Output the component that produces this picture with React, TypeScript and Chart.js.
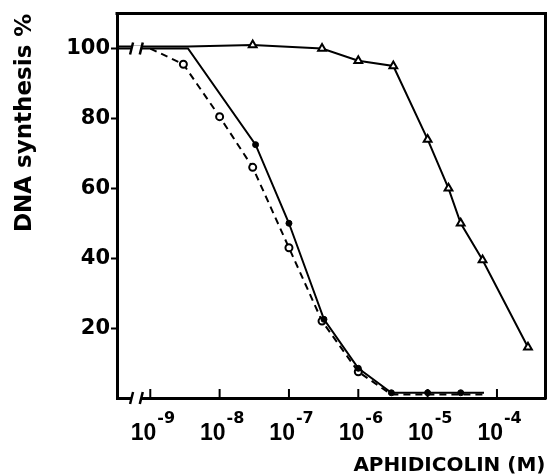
import React, { useEffect, useRef } from 'react';
import { Chart, registerables } from 'chart.js';
Chart.register(...registerables);

// Concentration of aphidicolin (M) and % DNA synthesis
const xSolid = [3.3e-10, 3.5e-9, 3.3e-8, 1e-7, 3.2e-7, 1e-6, 3e-6, 1e-5, 3e-5, 6.5e-5];
const ySolid = [100, 100, 72.5, 50, 22.5, 8.5, 1.5, 1.5, 1.5, 1.5];

const xDashed = [1e-9, 3e-9, 1e-8, 3e-8, 1e-7, 3e-7, 1e-6, 3e-6, 6.5e-5];
const yDashed = [100, 95.5, 80.5, 66, 43, 22, 7.5, 1, 1];

const xTri = [3.3e-10, 3.5e-9, 3e-8, 3e-7, 1e-6, 3.2e-6, 1e-5, 2e-5, 3e-5, 6.2e-5, 2.8e-4];
const yTri = [100.6, 100.6, 101, 100, 96.5, 95, 74, 60, 50, 39.5, 14.5];

const xTickValues = [1e-9, 1e-8, 1e-7, 1e-6, 1e-5, 1e-4];
const xTickExponents = ['-9', '-8', '-7', '-6', '-5', '-4'];
const yTickValues = [20, 40, 60, 80, 100];

const xMin = Math.pow(10, -9.48);
const xMax = Math.pow(10, -3.3);
const yMin = 0;
const yMax = 110;
const breakValues = [Math.pow(10, -9.27), Math.pow(10, -9.13)];

const xTitle = 'APHIDICOLIN (M)';
const yTitle = 'DNA synthesis %';

const FONT = '"DejaVu Sans", sans-serif';
const XFONT = '"Liberation Sans", Arial, sans-serif';

const toPoints = (xs: number[], ys: number[]) => xs.map((x, i) => ({ x, y: ys[i] }));

const hideIdx = (hidden: number[], r: number) => (ctx: any) =>
  hidden.includes(ctx.dataIndex) ? 0 : r;

const decorPlugin = {
  id: 'decor',
  afterDraw(chart: any) {
    const { ctx, chartArea } = chart;
    const xs = chart.scales.x;
    const ys = chart.scales.y;
    ctx.save();
    ctx.strokeStyle = '#000';
    ctx.lineCap = 'butt';
    // top & right frame
    ctx.lineWidth = 3;
    ctx.beginPath();
    ctx.moveTo(chartArea.left - 1.5, chartArea.top);
    ctx.lineTo(chartArea.right, chartArea.top);
    ctx.lineTo(chartArea.right, chartArea.bottom + 1.5);
    ctx.stroke();
    // inward x tick marks
    ctx.lineWidth = 2;
    xTickValues.forEach((v) => {
      const px = xs.getPixelForValue(v);
      ctx.beginPath();
      ctx.moveTo(px, chartArea.bottom);
      ctx.lineTo(px, chartArea.bottom - 9);
      ctx.stroke();
    });
    // axis breaks
    const b1 = xs.getPixelForValue(breakValues[0]);
    const b2 = xs.getPixelForValue(breakValues[1]);
    [ys.getPixelForValue(100), chartArea.bottom].forEach((py: number) => {
      ctx.fillStyle = '#fff';
      ctx.fillRect(b1, py - 3, b2 - b1, 6);
      ctx.lineWidth = 2.5;
      [b1, b2].forEach((bx) => {
        ctx.beginPath();
        ctx.moveTo(bx - 1.5, py + 6);
        ctx.lineTo(bx + 1.5, py - 6);
        ctx.stroke();
      });
    });
    // x tick labels 10^n
    ctx.fillStyle = '#000';
    ctx.textBaseline = 'alphabetic';
    xTickValues.forEach((v, i) => {
      const px = xs.getPixelForValue(v);
      ctx.font = `bold 23px ${XFONT}`;
      ctx.textAlign = 'right';
      ctx.fillText('10', px + 6, 440);
      ctx.font = `bold 16px ${FONT}`;
      ctx.textAlign = 'left';
      ctx.fillText(xTickExponents[i], px + 7, 423);
    });
    ctx.restore();
  },
};

export default function App() {
  const ref = useRef<HTMLCanvasElement | null>(null);
  useEffect(() => {
    if (!ref.current) return;
    const chart = new Chart(ref.current, {
      type: 'line',
      data: {
        datasets: [
          {
            data: toPoints(xSolid, ySolid),
            borderColor: '#000',
            backgroundColor: '#000',
            borderWidth: 2,
            pointRadius: hideIdx([0, 1, 9], 3),
            pointBorderWidth: 1,
            pointStyle: 'circle',
          },
          {
            data: toPoints(xDashed, yDashed),
            borderColor: '#000',
            backgroundColor: '#fff',
            borderWidth: 2,
            borderDash: [7, 5],
            pointRadius: hideIdx([0, 7, 8], 3.5),
            pointBorderWidth: 2,
            pointStyle: 'circle',
          },
          {
            data: toPoints(xTri, yTri),
            borderColor: '#000',
            backgroundColor: '#fff',
            borderWidth: 2,
            pointRadius: hideIdx([0, 1], 4.5),
            pointBorderWidth: 2,
            pointStyle: 'triangle',
          },
        ],
      },
      options: {
        animation: false,
        responsive: false,
        layout: { padding: { top: 12, right: 4, left: 0, bottom: 0 } },
        plugins: { legend: { display: false }, tooltip: { enabled: false } },
        elements: { line: { tension: 0 } },
        scales: {
          x: {
            type: 'logarithmic',
            min: xMin,
            max: xMax,
            afterFit: (s: any) => { s.height = 78; },
            grid: { display: false },
            ticks: { display: false },
            border: { display: true, color: '#000', width: 3 },
            title: {
              display: true,
              text: xTitle,
              align: 'end',
              color: '#000',
              font: { family: FONT, size: 20, weight: 'bold', lineHeight: 1 },
              padding: { top: 1, bottom: 0 },
            },
          },
          y: {
            type: 'linear',
            min: yMin,
            max: yMax,
            afterFit: (s: any) => { s.width = 117; },
            afterBuildTicks: (s: any) => {
              s.ticks = yTickValues.map((v) => ({ value: v }));
            },
            grid: {
              display: true,
              drawOnChartArea: false,
              drawTicks: true,
              tickLength: 6,
              tickWidth: 2,
              color: '#000',
            },
            ticks: {
              color: '#000',
              padding: 1,
              font: { family: FONT, size: 21, weight: 'bold' },
            },
            border: { display: true, color: '#000', width: 3 },
            title: {
              display: true,
              text: yTitle,
              align: 'end',
              color: '#000',
              font: { family: FONT, size: 23, weight: '600', lineHeight: 1.2 },
              padding: { top: 11, bottom: 0 },
            },
          },
        },
      },
      plugins: [decorPlugin],
    });
    return () => chart.destroy();
  }, []);
  return (
    <div style={{ position: 'absolute', left: 0, top: 0, width: 552, height: 476, background: '#fff' }}>
      <canvas ref={ref} width={552} height={476} />
    </div>
  );
}
